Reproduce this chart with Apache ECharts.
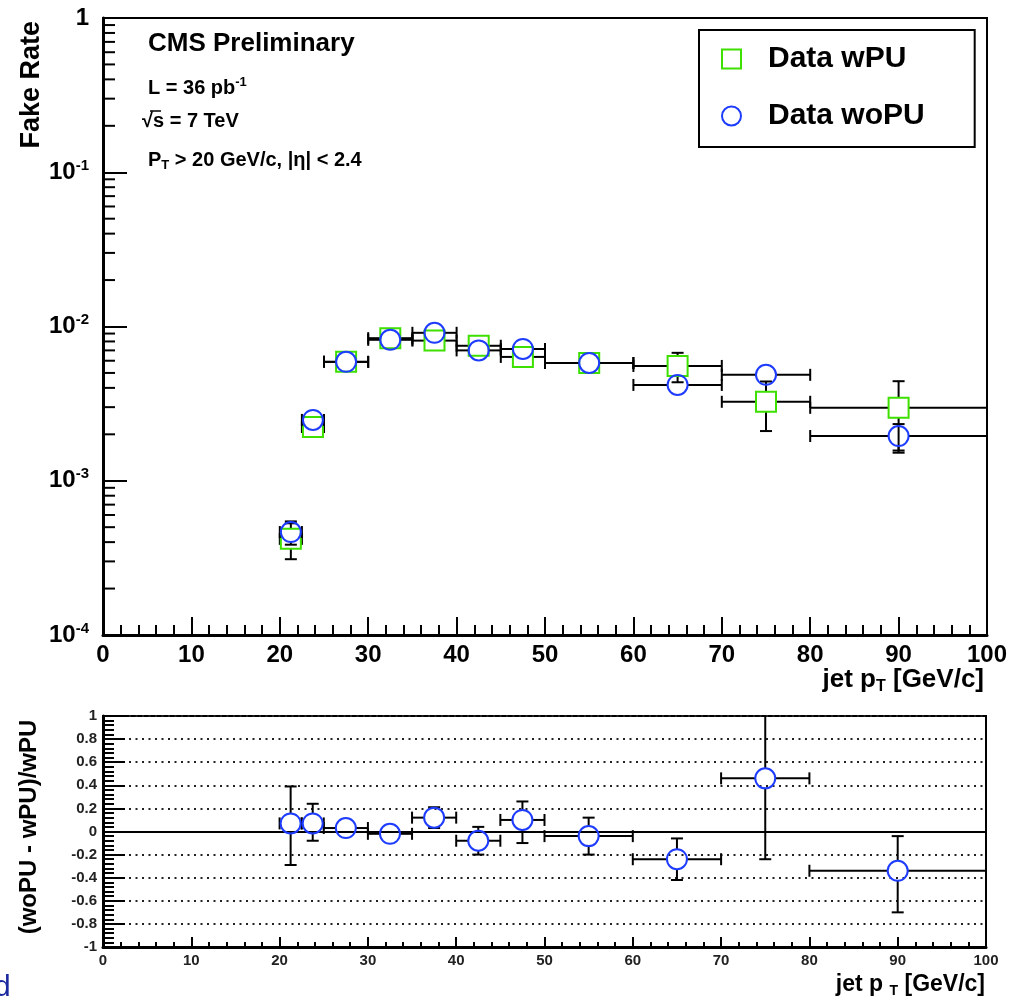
<!DOCTYPE html>
<html>
<head>
<meta charset="utf-8">
<script src="https://cdn.jsdelivr.net/npm/echarts@6/dist/echarts.min.js"></script>
<style>html,body{margin:0;padding:0;background:#fff;}#c{width:1017px;height:1003px;}</style>
</head>
<body>
<div id="c"></div>
<script>
// ---------------- data ----------------
const binCenter = [21.25, 23.75, 27.5, 32.5, 37.5, 42.5, 47.5, 55, 65, 75, 90];
const binLow    = [20, 22.5, 25, 30, 35, 40, 45, 50, 60, 70, 80];
const binHigh   = [22.5, 25, 30, 35, 40, 45, 50, 60, 70, 80, 100];

const wPU      = [4.2e-4, 2.23e-3, 5.9e-3, 8.4e-3, 8.1e-3, 7.5e-3, 6.35e-3, 5.8e-3, 5.55e-3, 3.25e-3, 2.97e-3];
const wPUErr   = [1.1e-4, 1.5e-4, 3.0e-4, 3.5e-4, 4.0e-4, 4.0e-4, 4.0e-4, 4.0e-4, 1.2e-3, 1.15e-3, 1.45e-3];
const woPU     = [4.65e-4, 2.48e-3, 5.9e-3, 8.2e-3, 9.1e-3, 7.0e-3, 7.15e-3, 5.8e-3, 4.18e-3, 4.86e-3, 1.95e-3];
const woPUErr  = [0.8e-4, 1.2e-4, 2.5e-4, 3.0e-4, 3.5e-4, 3.5e-4, 3.5e-4, 3.5e-4, 4.0e-4, 4.5e-4, 3.8e-4];

const ratio     = [0.07, 0.07, 0.03, -0.02, 0.12, -0.08, 0.10, -0.04, -0.24, 0.46, -0.34];
const ratioLow  = [-0.29, -0.08, -0.02, -0.07, 0.03, -0.20, -0.10, -0.20, -0.42, -0.24, -0.70];
const ratioHigh = [0.39, 0.24, 0.08, 0.03, 0.21, 0.04, 0.26, 0.12, -0.06, 1.40, -0.04];

const xTicks = [0, 10, 20, 30, 40, 50, 60, 70, 80, 90, 100];
const logDecades = [-4, -3, -2, -1];
const logMinorMult = [2, 3, 4, 5, 6, 7, 8, 9];

// ---------------- helpers ----------------
const FONT = 'Liberation Sans';
const GREEN = '#3ee000';
const BLUE = '#1e3cff';

const logMinorTicks = [];
logDecades.forEach(d => logMinorMult.forEach(m => logMinorTicks.push([0, m * Math.pow(10, d)])));

function rows(ys, lo, hi) {
  return binCenter.map((x, i) => [x, ys[i], binLow[i], binHigh[i], lo[i], hi[i]]);
}
const wPURows = rows(wPU, wPU.map((v, i) => v - wPUErr[i]), wPU.map((v, i) => v + wPUErr[i]));
const woPURows = rows(woPU, woPU.map((v, i) => v - woPUErr[i]), woPU.map((v, i) => v + woPUErr[i]));
const ratioRows = rows(ratio, ratioLow, ratioHigh);

function errorBars(r, cap) {
  return function (params, api) {
    const x = api.value(0), y = api.value(1);
    const c = api.coord([x, y]);
    const pl = api.coord([api.value(2), y]);
    const ph = api.coord([api.value(3), y]);
    const pb = api.coord([x, api.value(4)]);
    const pt = api.coord([x, api.value(5)]);
    const cs = params.coordSys;
    const top = cs.y, bot = cs.y + cs.height;
    const style = { stroke: '#000', lineWidth: 2 };
    const kids = [];
    const seg = (x1, y1, x2, y2) => kids.push({ type: 'line', shape: { x1, y1, x2, y2 }, style });
    if (pl[0] < c[0] - r) seg(pl[0], c[1], c[0] - r, c[1]);
    seg(pl[0], c[1] - cap, pl[0], c[1] + cap);
    if (ph[0] > c[0] + r) seg(c[0] + r, c[1], ph[0], c[1]);
    seg(ph[0], c[1] - cap, ph[0], c[1] + cap);
    const yt = Math.max(pt[1], top);
    if (yt < c[1] - r) {
      seg(c[0], c[1] - r, c[0], yt);
      if (pt[1] >= top) seg(c[0] - cap, yt, c[0] + cap, yt);
    }
    const yb = Math.min(pb[1], bot);
    if (yb > c[1] + r) {
      seg(c[0], c[1] + r, c[0], yb);
      if (pb[1] <= bot) seg(c[0] - cap, yb, c[0] + cap, yb);
    }
    return { type: 'group', children: kids };
  };
}

const chart = echarts.init(document.getElementById('c'), null, { renderer: 'canvas' });

const axisLineStyle = { color: '#000', width: 3 };
const tickStyle = { color: '#000', width: 2 };

const option = {
  animation: false,
  backgroundColor: '#fff',
  textStyle: { fontFamily: FONT },
  grid: [
    { left: 103, top: 18, width: 884, height: 617, show: true, borderColor: '#000', borderWidth: 2, backgroundColor: 'rgba(0,0,0,0)' },
    { left: 103, top: 716, width: 883, height: 231, show: true, borderColor: '#000', borderWidth: 2, backgroundColor: 'rgba(0,0,0,0)' }
  ],
  legend: {
    orient: 'vertical', left: 699, top: 30,
    itemWidth: 19, itemHeight: 19, itemGap: 27,
    padding: [14, 50, 16, 22],
    borderColor: '#000', borderWidth: 2, backgroundColor: '#fff',
    textStyle: { fontSize: 30, fontWeight: 'bold', color: '#000', fontFamily: FONT, padding: [0, 0, 0, 22] },
    data: [
      { name: 'Data wPU', icon: 'rect', itemStyle: { color: 'rgba(0,0,0,0)', borderColor: GREEN, borderWidth: 2 } },
      { name: 'Data woPU', icon: 'circle', itemStyle: { color: 'rgba(0,0,0,0)', borderColor: BLUE, borderWidth: 2 } }
    ]
  },
  xAxis: [
    {
      gridIndex: 0, type: 'value', min: xTicks[0], max: xTicks[xTicks.length - 1], interval: 10,
      axisLine: { show: true, onZero: false, lineStyle: axisLineStyle },
      axisTick: { show: true, inside: true, length: 18, lineStyle: tickStyle },
      minorTick: { show: true, splitNumber: 5, length: 10, lineStyle: tickStyle },
      splitLine: { show: false },
      axisLabel: { margin: 8, fontSize: 24, fontWeight: 'bold', color: '#000', fontFamily: FONT }
    },
    {
      gridIndex: 1, type: 'value', min: xTicks[0], max: xTicks[xTicks.length - 1], interval: 10,
      axisLine: { show: true, onZero: false, lineStyle: axisLineStyle },
      axisTick: { show: true, inside: true, length: 10, lineStyle: tickStyle },
      minorTick: { show: true, splitNumber: 5, length: 5, lineStyle: tickStyle },
      splitLine: { show: false },
      axisLabel: { margin: 6, fontSize: 15, fontWeight: 'bold', color: '#222', fontFamily: FONT }
    }
  ],
  yAxis: [
    {
      gridIndex: 0, type: 'log', logBase: 10, min: 1e-4, max: 1,
      axisLine: { show: true, onZero: false, lineStyle: axisLineStyle },
      axisTick: { show: true, inside: true, length: 24, lineStyle: tickStyle },
      splitLine: { show: false },
      axisLabel: {
        margin: 14, fontSize: 24, fontWeight: 'bold', color: '#000', fontFamily: FONT, lineHeight: 28,
        formatter: function (v) {
          const e = Math.round(Math.log10(v));
          return e === 0 ? '1' : '10{sup|' + e + '}';
        },
        rich: { sup: { fontSize: 15, fontWeight: 'bold', color: '#000', fontFamily: FONT, verticalAlign: 'top', lineHeight: 10 } }
      }
    },
    {
      gridIndex: 1, type: 'value', min: -1, max: 1, interval: 0.2,
      axisLine: { show: true, onZero: false, lineStyle: axisLineStyle },
      axisTick: { show: true, inside: true, length: 22, lineStyle: tickStyle },
      minorTick: { show: true, splitNumber: 5, length: 11, lineStyle: tickStyle },
      splitLine: { show: true, lineStyle: { color: '#222', width: 2, type: [2, 4.5] } },
      axisLabel: {
        margin: 6, fontSize: 15, fontWeight: 'bold', color: '#222', fontFamily: FONT,
        formatter: function (v) {
          const r = Math.round(v * 10) / 10;
          return r === 0 ? '0' : String(r);
        }
      }
    }
  ],
  series: [
    {
      name: 'wPU errors', type: 'custom', xAxisIndex: 0, yAxisIndex: 0, z: 2,
      renderItem: errorBars(10, 6), encode: { x: 0, y: 1 }, data: wPURows, silent: true
    },
    {
      name: 'Data wPU', type: 'scatter', xAxisIndex: 0, yAxisIndex: 0, z: 3,
      symbol: 'rect', symbolSize: 20,
      itemStyle: { color: 'rgba(0,0,0,0)', borderColor: GREEN, borderWidth: 2, opacity: 1 },
      data: binCenter.map((x, i) => [x, wPU[i]]), silent: true
    },
    {
      name: 'woPU errors', type: 'custom', xAxisIndex: 0, yAxisIndex: 0, z: 4,
      renderItem: errorBars(10, 6), encode: { x: 0, y: 1 }, data: woPURows, silent: true
    },
    {
      name: 'Data woPU', type: 'scatter', xAxisIndex: 0, yAxisIndex: 0, z: 5,
      symbol: 'circle', symbolSize: 20,
      itemStyle: { color: 'rgba(0,0,0,0)', borderColor: BLUE, borderWidth: 2, opacity: 1 },
      data: binCenter.map((x, i) => [x, woPU[i]]), silent: true
    },
    {
      name: 'log minor ticks', type: 'custom', xAxisIndex: 0, yAxisIndex: 0, z: 6, silent: true,
      encode: { x: 0, y: 1 }, data: logMinorTicks,
      renderItem: function (params, api) {
        const p = api.coord([api.value(0), api.value(1)]);
        return { type: 'line', shape: { x1: p[0], y1: p[1], x2: p[0] + 12, y2: p[1] }, style: { stroke: '#000', lineWidth: 2 } };
      }
    },
    {
      name: 'ratio errors', type: 'custom', xAxisIndex: 1, yAxisIndex: 1, z: 4,
      renderItem: errorBars(10, 6), encode: { x: 0, y: 1 }, data: ratioRows, silent: true
    },
    {
      name: 'ratio', type: 'scatter', xAxisIndex: 1, yAxisIndex: 1, z: 5,
      symbol: 'circle', symbolSize: 20,
      itemStyle: { color: 'rgba(0,0,0,0)', borderColor: BLUE, borderWidth: 2, opacity: 1 },
      data: binCenter.map((x, i) => [x, ratio[i]]), silent: true,
      markLine: {
        silent: true, symbol: ['none', 'none'], label: { show: false },
        lineStyle: { type: 'solid', color: '#000', width: 2 },
        data: [{ yAxis: 0 }]
      }
    }
  ],
  graphic: [
    { type: 'text', x: 148, y: 44, style: { text: 'CMS Preliminary', fontSize: 26, fontWeight: 'bold', fontFamily: FONT, fill: '#000', verticalAlign: 'middle' } },
    { type: 'text', x: 148, y: 88, style: { text: 'L = 36 pb{sup|-1}', fontSize: 20, fontWeight: 'bold', fontFamily: FONT, fill: '#000', verticalAlign: 'middle', lineHeight: 24,
        rich: { sup: { fontSize: 13, fontWeight: 'bold', fontFamily: FONT, fill: '#000', verticalAlign: 'top', lineHeight: 8 } } } },
    { type: 'text', x: 142, y: 121, style: { text: '\u221As = 7 TeV', fontSize: 20, fontWeight: 'bold', fontFamily: FONT, fill: '#000', verticalAlign: 'middle' } },
    { type: 'line', shape: { x1: 150, y1: 111, x2: 161, y2: 111 }, style: { stroke: '#000', lineWidth: 1.5 } },
    { type: 'text', x: 148, y: 160, style: { text: 'P{sub|T} > 20 GeV/c, |\u03B7| < 2.4', fontSize: 20, fontWeight: 'bold', fontFamily: FONT, fill: '#000', verticalAlign: 'middle', lineHeight: 24,
        rich: { sub: { fontSize: 13, fontWeight: 'bold', fontFamily: FONT, fill: '#000', verticalAlign: 'bottom', lineHeight: 8 } } } },
    { type: 'text', x: 32, y: 21, rotation: Math.PI / 2, style: { text: 'Fake Rate', fontSize: 27, fontWeight: 'bold', fontFamily: FONT, fill: '#000', align: 'right', verticalAlign: 'middle' } },
    { type: 'text', x: 984, y: 680, style: { text: 'jet p{sub|T} [GeV/c]', fontSize: 26, fontWeight: 'bold', fontFamily: FONT, fill: '#000', align: 'right', verticalAlign: 'middle', lineHeight: 30,
        rich: { sub: { fontSize: 16, fontWeight: 'bold', fontFamily: FONT, fill: '#000', verticalAlign: 'bottom', lineHeight: 8 } } } },
    { type: 'text', x: 29, y: 827, rotation: Math.PI / 2, style: { text: '(woPU - wPU)/wPU', fontSize: 24, fontWeight: 'bold', fontFamily: FONT, fill: '#000', align: 'center', verticalAlign: 'middle' } },
    { type: 'text', x: 985, y: 985, style: { text: 'jet p {sub|T} [GeV/c]', fontSize: 23, fontWeight: 'bold', fontFamily: FONT, fill: '#000', align: 'right', verticalAlign: 'middle', lineHeight: 26,
        rich: { sub: { fontSize: 14, fontWeight: 'bold', fontFamily: FONT, fill: '#000', verticalAlign: 'bottom', lineHeight: 6 } } } },
    { type: 'text', x: -6, y: 988, style: { text: 'd', fontSize: 30, fontFamily: FONT, fill: '#1b2a9e', verticalAlign: 'middle' } }
  ]
};

chart.setOption(option);
</script>
</body>
</html>
